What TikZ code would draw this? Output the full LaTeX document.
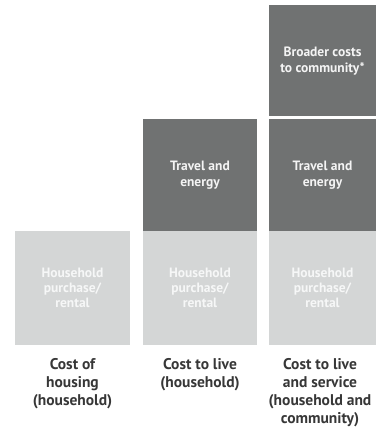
\documentclass[tikz,border=0pt]{standalone}
\usepackage{fontspec}
\setmainfont{PT Sans}
\usepackage{tikz}
\usetikzlibrary{positioning}
\definecolor{costdark}{RGB}{112,114,114}
\definecolor{costlight}{RGB}{212,214,214}
\definecolor{costtext}{RGB}{55,55,55}

\begin{document}
\begin{tikzpicture}[x=1pt, y=-1pt,
  darkbox/.style={fill=costdark, text=white!92!costdark, inner sep=0pt, minimum height=112pt, font=\fontsize{13.5}{15.5}\selectfont\bfseries, align=center},
  lightbox/.style={fill=costlight, text=white!80!costlight, inner sep=0pt, minimum height=114pt, font=\fontsize{13.5}{15}\selectfont\bfseries, align=center},
  caption/.style={text=costtext, font=\fontsize{15.5}{18}\selectfont\bfseries, align=center, anchor=north}
]
  \useasboundingbox (0,0) rectangle (377,435);

  \node[lightbox, minimum width=115pt] (housebuy) at (72.5,288) {Household\\purchase/\\rental};
  \node[lightbox, minimum width=114pt] (livebuy) at (200,288) {Household\\purchase/\\rental};
  \node[lightbox, minimum width=107pt] (servbuy) at (322.5,288) {Household\\purchase/\\rental};

  \node[darkbox, minimum width=114pt] (livetravel) at (200,175) {Travel and\\energy};
  \node[darkbox, minimum width=107pt] (servtravel) at (322.5,175) {Travel and\\energy};
  \node[darkbox, minimum width=107pt, minimum height=111pt] (servbroad) at (322.5,61) {Broader costs\\to community*};

  \node[caption] (housecap) at (72.5,355) {Cost of\\housing\\(household)};
  \node[caption] (livecap) at (200,355) {Cost to live\\(household)};
  \node[caption] (servcap) at (320,355) {Cost to live\\and service\\(household and\\community)};
\end{tikzpicture}
\end{document}
